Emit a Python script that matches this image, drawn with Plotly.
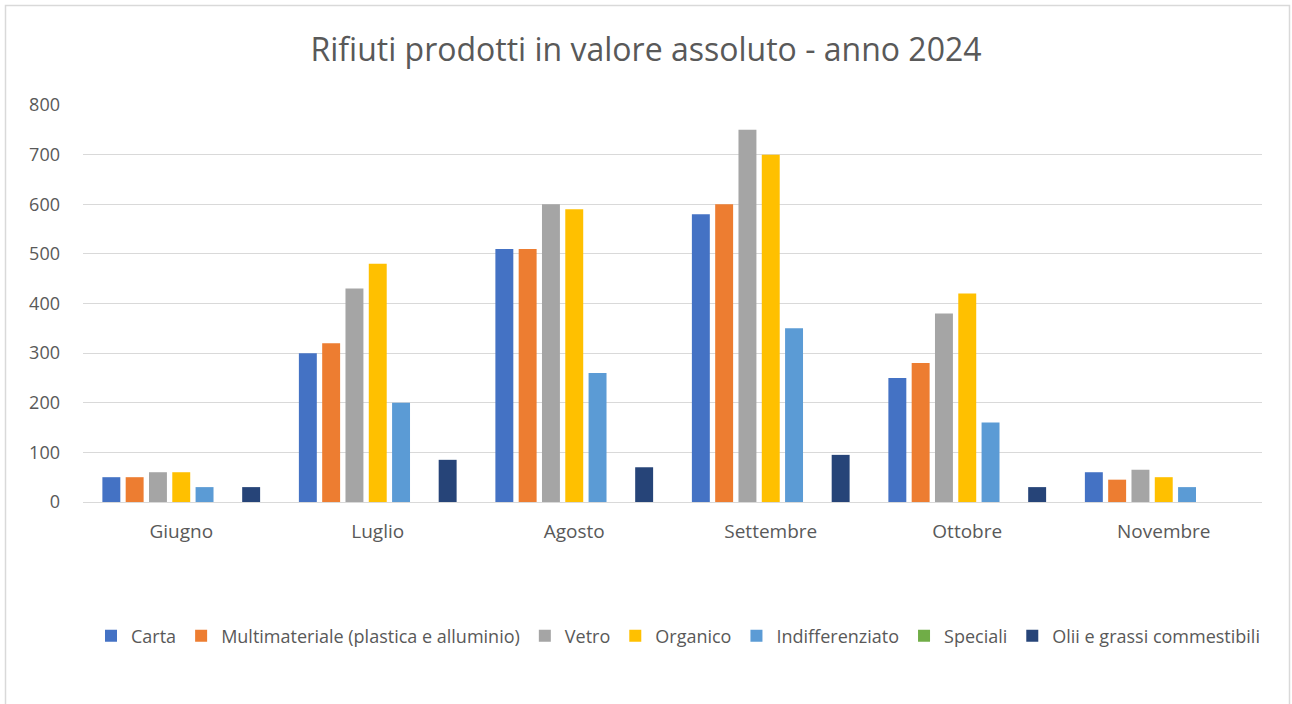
import plotly.graph_objects as go

months = ["Giugno", "Luglio", "Agosto", "Settembre", "Ottobre", "Novembre"]
series_names = ["Carta", "Multimateriale (plastica e alluminio)", "Vetro", "Organico",
                "Indifferenziato", "Speciali", "Olii e grassi commestibili"]
carta = [50, 300, 510, 580, 250, 60]
multimateriale = [50, 320, 510, 600, 280, 45]
vetro = [60, 430, 600, 750, 380, 65]
organico = [60, 480, 590, 700, 420, 50]
indifferenziato = [30, 200, 260, 350, 160, 30]
speciali = [0, 0, 0, 0, 0, 0]
olii = [30, 85, 70, 95, 30, 0]
colors = ["#4472C4", "#ED7D31", "#A5A5A5", "#FFC000", "#5B9BD5", "#70AD47", "#264478"]
y_ticks = [0, 100, 200, 300, 400, 500, 600, 700, 800]

all_values = [carta, multimateriale, vetro, organico, indifferenziato, speciali, olii]

FONT = "Open Sans"
TXT = "#595959"

fig = go.Figure()
for name, vals, col in zip(series_names, all_values, colors):
    fig.add_trace(go.Bar(x=months, y=vals, name=name, marker=dict(color=col, line=dict(width=0))))

W, H = 1292, 704
L, R, T, B = 83, 30, 105, 202
pw, ph = W - L - R, H - T - B

def px_to_paper_x(px):
    return (px - L) / pw

def px_to_paper_y(py):
    return (H - B - py) / ph

fig.update_layout(
    width=W, height=H,
    margin=dict(l=L, r=R, t=T, b=B),
    paper_bgcolor="white", plot_bgcolor="white",
    barmode="group", bargap=0.17, bargroupgap=0.23,
    font=dict(family=FONT, color=TXT, size=18),
    title=dict(text="Rifiuti prodotti in valore assoluto - anno 2024",
               x=0.5, xanchor="center", xref="container",
               y=1 - 50 / H, yanchor="middle", yref="container",
               font=dict(family=FONT, size=32, color=TXT)),
    legend=dict(orientation="h", x=px_to_paper_x(678), xanchor="center",
                y=px_to_paper_y(636), yanchor="middle",
                font=dict(family=FONT, size=18, color=TXT),
                itemwidth=30, tracegroupgap=0, traceorder="normal"),
    xaxis=dict(showgrid=False, showline=False, ticks="", tickfont=dict(size=19, color=TXT),
               ticklabelstandoff=16),
    yaxis=dict(range=[0, 800], tickvals=y_ticks, gridcolor="#D9D9D9", gridwidth=1,
               zeroline=True, zerolinecolor="#D9D9D9", zerolinewidth=1,
               showline=False, ticks="", tickfont=dict(size=18, color=TXT),
               ticklabelstandoff=22),
    shapes=[dict(type="rect", xref="paper", yref="paper",
                 x0=px_to_paper_x(5.5), x1=px_to_paper_x(1289.5),
                 y0=px_to_paper_y(712), y1=px_to_paper_y(5.5),
                 line=dict(color="#D9D9D9", width=1.5), fillcolor="rgba(0,0,0,0)", layer="below")],
)

fig.write_html("out.html", config={"displayModeBar": False},
               post_script="document.body.style.margin='0';document.body.style.overflow='hidden';")
